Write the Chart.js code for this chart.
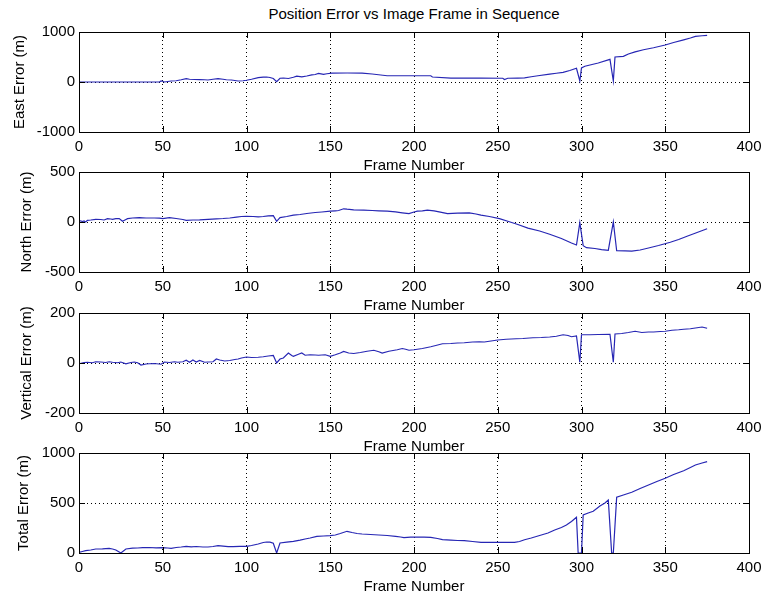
<!DOCTYPE html>
<html lang="en">
<head>
<meta charset="UTF-8">
<title>Position Error vs Image Frame in Sequence</title>
<script src="https://cdn.jsdelivr.net/npm/chart.js@4.4.1/dist/chart.umd.js"></script>
<style>
  body { margin: 0; background: #fff; width: 763px; height: 601px; position: relative; overflow: hidden;
         font-family: "Liberation Sans", Arial, sans-serif; }
  #title { position: absolute; left: 79px; width: 670px; top: 5px; line-height: 18px;
           text-align: center; font-size: 15px; color: #000; }
  canvas { position: absolute; left: 0; }
</style>
</head>
<body>
<div id="title">Position Error vs Image Frame in Sequence</div>
<canvas id="eastChart" width="763" height="155" style="top:22px"></canvas>
<canvas id="northChart" width="763" height="155" style="top:162px"></canvas>
<canvas id="vertChart" width="763" height="155" style="top:303px"></canvas>
<canvas id="totalChart" width="763" height="155" style="top:443px"></canvas>

<script>
// ---- data ----
const frameTicks = [0, 50, 100, 150, 200, 250, 300, 350, 400];

const eastFrames = [0, 48, 49, 50, 51, 53, 55, 58, 61, 64, 66, 69, 72, 75, 77, 80, 83, 86, 88, 91, 95, 98, 100,
  103, 107, 110, 112, 114, 116, 118, 120, 122, 125, 128, 130, 133, 136, 139, 141, 143, 146, 148, 151, 160, 169,
  175, 184, 195, 210, 211, 222, 240, 253, 254, 256, 262, 266, 270, 274, 281, 285, 289, 293, 297, 299, 300, 302,
  310, 317, 319, 320, 325, 328, 332, 337, 343, 350, 355, 361, 365, 368, 372, 375];
const eastError = [0, 0, 20, 15, 0, 10, 20, 25, 45, 68, 55, 50, 48, 45, 40, 55, 68, 55, 45, 40, 20, 25, 35,
  55, 89, 96, 100, 90, 70, 7, 75, 80, 70, 95, 116, 103, 120, 144, 150, 171, 151, 165, 178, 180, 178,
  160, 125, 125, 125, 100, 78, 78, 75, 50, 75, 78, 82, 105, 125, 158, 175, 192, 230, 274, 20, 280, 315,
  380, 452, 20, 500, 514, 560, 603, 645, 685, 740, 790, 843, 880, 911, 925, 932];

const northFrames = [0, 1, 2, 3, 4, 5, 7, 10, 13, 15, 17, 19, 20, 22, 24, 26, 28, 29, 32, 36, 40, 45, 48, 50, 54,
  58, 62, 64, 68, 72, 77, 82, 86, 90, 94, 97, 100, 104, 107, 110, 113, 116, 118, 120, 124, 128, 132, 136, 141,
  145, 150, 153, 155, 158, 160, 164, 170, 175, 179, 184, 189, 193, 197, 200, 202, 205, 208, 212, 215, 220, 226,
  233, 237, 240, 245, 251, 256, 262, 268, 275, 281, 288, 294, 297, 299, 301, 303, 308, 312, 316, 319, 321, 326,
  330, 335, 340, 346, 353, 358, 363, 369, 375];
const northError = [5, 12, 5, 10, 0, 17, 20, 27, 25, 20, 34, 30, 27, 34, 34, 7, 25, 34, 40, 44, 40, 40, 38, 34, 44,
  35, 25, 17, 20, 22, 27, 32, 35, 40, 48, 55, 57, 55, 51, 55, 62, 64, 7, 44, 55, 68, 75, 85, 95,
  100, 108, 112, 115, 132, 128, 122, 118, 115, 112, 108, 101, 92, 84, 100, 108, 112, 118, 112, 101, 84, 88,
  91, 80, 68, 55, 34, 7, -25, -61, -90, -122, -165, -210, -230, -7, -237, -257, -265, -277, -284, 0, -287, -289,
  -291, -280, -260, -235, -203, -175, -142, -105, -68];

const vertFrames = [0, 3, 5, 8, 10, 13, 16, 18, 20, 23, 25, 28, 31, 33, 35, 37, 40, 42, 45, 49, 51, 54, 57, 59,
  62, 64, 66, 68, 70, 72, 75, 77, 80, 82, 84, 87, 90, 93, 95, 97, 100, 103, 107, 110, 113, 116, 118, 120, 122,
  125, 127, 128, 131, 133, 135, 138, 141, 143, 147, 150, 153, 156, 158, 161, 164, 168, 172, 176, 179, 181, 185,
  190, 193, 195, 197, 200, 205, 210, 213, 217, 222, 226, 230, 235, 239, 242, 246, 250, 255, 261, 265, 271, 276,
  281, 285, 289, 292, 294, 297, 299, 300, 305, 310, 317, 319, 320, 324, 328, 332, 336, 340, 343, 347, 350, 354,
  358, 361, 365, 368, 372, 375];
const vertError = [-3, 2, 3, 1, 5, 4, 2, 5, 3, 1, 4, -3, 2, 4, 1, -8, -4, -3, -2, -5, 4, 2, 5, 3,
  5, 11, 3, 12, 4, 10, 3, 4, 5, 16, 12, 8, 10, 14, 16, 20, 24, 22, 23, 25, 28, 30, 0, 16, 20,
  40, 30, 27, 35, 40, 31, 33, 32, 31, 33, 27, 33, 40, 46, 40, 38, 42, 47, 51, 45, 40, 47,
  53, 58, 55, 51, 53, 58, 65, 70, 77, 78, 80, 81, 84, 85, 84, 88, 92, 95, 97, 98, 101, 102,
  104, 107, 113, 110, 105, 108, 3, 113, 113, 114, 115, 3, 116, 118, 122, 127, 122, 124, 124, 126, 127, 131,
  133, 135, 137, 140, 144, 139];

const totalFrames = [0, 2, 4, 7, 10, 14, 18, 20, 22, 25, 28, 32, 35, 38, 42, 46, 50, 53, 55, 58, 61, 64, 67, 70,
  74, 77, 80, 83, 86, 89, 92, 96, 100, 103, 107, 110, 112, 114, 116, 118, 120, 124, 128, 132, 135, 138, 142,
  146, 150, 153, 156, 160, 163, 166, 169, 174, 179, 184, 189, 192, 194, 198, 202, 206, 210, 214, 217, 222, 226,
  230, 235, 240, 250, 260, 263, 266, 270, 276, 280, 284, 288, 291, 294, 297, 298, 300, 301, 304, 307, 311, 314,
  316, 318, 319, 321, 325, 330, 335, 340, 345, 350, 355, 361, 365, 368, 372, 375];
const totalError = [7, 15, 23, 30, 40, 42, 47, 40, 30, 0, 40, 48, 50, 53, 55, 52, 53, 50, 47, 55, 60, 67, 62, 65,
  60, 60, 65, 73, 68, 63, 63, 67, 67, 75, 90, 105, 110, 108, 97, 0, 100, 108, 117, 128, 140, 150, 167,
  170, 173, 180, 195, 217, 205, 195, 190, 185, 180, 175, 167, 160, 153, 158, 160, 158, 157, 145, 133, 128, 125,
  123, 115, 107, 107, 107, 115, 133, 150, 180, 200, 230, 255, 280, 315, 357, 0, 0, 380, 400, 417, 470, 500,
  530, 0, 0, 557, 580, 607, 645, 680, 715, 747, 785, 823, 855, 880, 900, 913];

const panels = [
  { id: 'eastChart',  label: 'East Error (m)',     frames: eastFrames,  values: eastError,  yTicks: [-1000, 0, 1000], titlePad: 11 },
  { id: 'northChart', label: 'North Error (m)',    frames: northFrames, values: northError, yTicks: [-500, 0, 500],   titlePad: 18 },
  { id: 'vertChart',  label: 'Vertical Error (m)', frames: vertFrames,  values: vertError,  yTicks: [-200, 0, 200],   titlePad: 18 },
  { id: 'totalChart', label: 'Total Error (m)',    frames: totalFrames, values: totalError, yTicks: [0, 500, 1000],   titlePad: 15 }
];

// ---- styling ----
const TICK_LEN = 6;
Chart.defaults.font.family = "'Liberation Sans', Arial, sans-serif";
Chart.defaults.font.size = 15;
Chart.defaults.color = '#000';

// axes box plus inward tick marks on all four sides
const axesBox = {
  id: 'axesBox',
  afterDraw(chart) {
    const { ctx, chartArea: a, scales } = chart;
    ctx.save();
    ctx.strokeStyle = '#000';
    ctx.lineWidth = 1;
    ctx.setLineDash([]);
    ctx.beginPath();
    scales.x.ticks.forEach(t => {
      const px = Math.round(scales.x.getPixelForValue(t.value)) + 0.5;
      ctx.moveTo(px, a.top); ctx.lineTo(px, a.top + TICK_LEN);
      ctx.moveTo(px, a.bottom); ctx.lineTo(px, a.bottom - TICK_LEN);
    });
    scales.y.ticks.forEach(t => {
      const py = Math.round(scales.y.getPixelForValue(t.value)) + 0.5;
      ctx.moveTo(a.left, py); ctx.lineTo(a.left + TICK_LEN, py);
      ctx.moveTo(a.right, py); ctx.lineTo(a.right - TICK_LEN, py);
    });
    ctx.stroke();
    ctx.strokeRect(Math.round(a.left) + 0.5, Math.round(a.top) + 0.5,
                   Math.round(a.right - a.left), Math.round(a.bottom - a.top));
    ctx.restore();
  }
};

const plainNumber = v => String(v);

panels.forEach(p => {
  const points = p.frames.map((f, i) => ({ x: f, y: p.values[i] }));
  new Chart(document.getElementById(p.id), {
    type: 'line',
    data: {
      datasets: [{
        data: points,
        borderColor: '#2626b4',
        borderWidth: 1.2,
        pointRadius: 0,
        tension: 0,
        fill: false
      }]
    },
    options: {
      responsive: false,
      animation: false,
      devicePixelRatio: 1,
      layout: { padding: { top: 10, right: 14, bottom: 0, left: 0 } },
      plugins: { legend: { display: false }, tooltip: { enabled: false } },
      scales: {
        x: {
          type: 'linear',
          min: 0,
          max: 400,
          afterBuildTicks: s => { s.ticks = frameTicks.map(v => ({ value: v })); },
          // fixed axis band; end labels sit in the layout padding
          afterFit: s => { s.height = 45; s.paddingLeft = 0; s.paddingRight = 0; },
          ticks: { autoSkip: false, maxRotation: 0, padding: 6, callback: plainNumber },
          grid: { color: '#000', lineWidth: 1, drawTicks: false },
          border: { display: false, dash: [1, 3] },
          title: { display: true, text: 'Frame Number', padding: { top: 0, bottom: 2 } }
        },
        y: {
          min: p.yTicks[0],
          max: p.yTicks[p.yTicks.length - 1],
          afterBuildTicks: s => { s.ticks = p.yTicks.map(v => ({ value: v })); },
          afterFit: s => { s.width = 79; s.paddingTop = 0; s.paddingBottom = 0; },
          ticks: { padding: 4, callback: plainNumber },
          grid: { color: '#000', lineWidth: 1, drawTicks: false },
          border: { display: false, dash: [1, 3] },
          title: { display: true, text: p.label, padding: { top: p.titlePad, bottom: 0 } }
        }
      }
    },
    plugins: [axesBox]
  });
});
</script>
</body>
</html>
